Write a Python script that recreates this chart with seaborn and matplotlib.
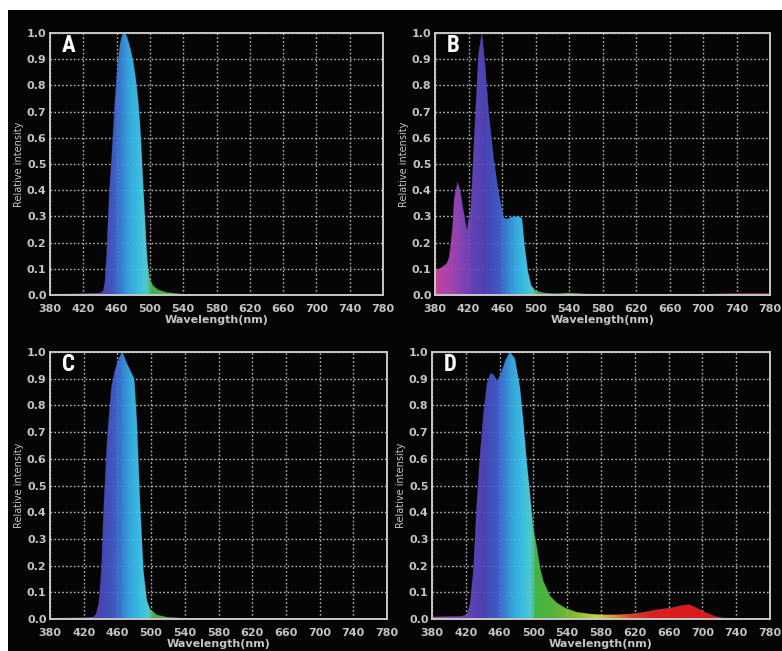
import numpy as np
import matplotlib
matplotlib.use("Agg")
import matplotlib.pyplot as plt
import seaborn as sns
import pandas as pd
from matplotlib.colors import LinearSegmentedColormap

# ---------------- data ----------------
wl_a = [380, 400, 420, 440, 444, 446, 448, 450, 452, 454, 456, 458, 460, 462, 464, 466, 468, 470,
        472, 474, 477, 480, 482, 484, 486, 488, 490, 492, 494, 496, 498, 500, 504, 510, 520, 540, 560, 600, 780]
val_a = [0.003, 0.004, 0.005, 0.008, 0.015, 0.05, 0.15, 0.3, 0.43, 0.52, 0.63, 0.74, 0.83, 0.9, 0.955, 0.985, 0.998, 1.0,
         0.99, 0.97, 0.935, 0.89, 0.85, 0.8, 0.74, 0.66, 0.55, 0.42, 0.3, 0.18, 0.1, 0.06, 0.035, 0.02, 0.01, 0.003, 0.001, 0.0, 0.0]

wl_b = [380, 388, 394, 397, 399, 401, 403, 407, 410, 413, 418, 423, 428, 432, 436, 440, 444, 450, 456,
        462, 466, 472, 478, 482, 484, 487, 491, 495, 500, 510, 525, 540, 560, 600, 700, 740, 780]
val_b = [0.093, 0.105, 0.12, 0.145, 0.2, 0.26, 0.37, 0.43, 0.4, 0.34, 0.245, 0.34, 0.67, 0.92, 1.0, 0.87, 0.7, 0.52, 0.39,
         0.295, 0.29, 0.298, 0.3, 0.298, 0.29, 0.19, 0.09, 0.036, 0.017, 0.008, 0.005, 0.008, 0.004, 0.003, 0.003, 0.006, 0.006]

wl_c = [380, 400, 420, 432, 435, 438, 441, 444, 448, 453, 457, 462, 466, 471, 477, 480, 483, 487, 491,
        495, 499, 507, 519, 538, 560, 780]
val_c = [0.003, 0.004, 0.005, 0.008, 0.02, 0.06, 0.18, 0.43, 0.68, 0.87, 0.93, 0.98, 1.0, 0.96, 0.92, 0.9, 0.75, 0.43, 0.18,
         0.07, 0.036, 0.015, 0.007, 0.003, 0.001, 0.0]

wl_d = [380, 400, 415, 421, 425, 429, 433, 437, 441, 445, 449, 453, 457, 461, 467, 472, 478, 484, 488,
        492, 496, 500, 504, 508, 512, 520, 528, 538, 551, 567, 583, 599, 615, 630, 646, 662, 674, 684,
        689, 697, 705, 715, 725, 740, 780]
val_d = [0.008, 0.009, 0.01, 0.016, 0.054, 0.18, 0.43, 0.62, 0.77, 0.88, 0.92, 0.915, 0.89, 0.915, 0.97, 1.0, 0.977, 0.87, 0.745,
         0.594, 0.47, 0.34, 0.27, 0.19, 0.14, 0.085, 0.06, 0.041, 0.026, 0.019, 0.016, 0.016, 0.019, 0.025, 0.035, 0.041, 0.05, 0.054,
         0.048, 0.035, 0.023, 0.01, 0.004, 0.003, 0.002]

panel_labels = ["A", "B", "C", "D"]
x_ticks = [380, 420, 460, 500, 540, 580, 620, 660, 700, 740, 780]
y_ticks = [0.0, 0.1, 0.2, 0.3, 0.4, 0.5, 0.6, 0.7, 0.8, 0.9, 1.0]
x_label = "Wavelength(nm)"
y_label = "Relative intensity"

# wavelength colour ramp
spec_nm = [380, 395, 410, 425, 440, 455, 465, 475, 488, 496, 502, 520, 550, 575, 595, 615, 640, 780]
spec_col = ["#d24aa8", "#b848b8", "#9048c0", "#6a46c0", "#5048c0", "#4460d0", "#3c88e0", "#38b4ec",
            "#40d0f4", "#58d8d8", "#48c048", "#58c040", "#90cc30", "#e0e040", "#f0a030", "#f04828",
            "#f02020", "#e01818"]

# ---------------- styling ----------------
sns.set_theme(style="dark")
plt.rcParams["font.family"] = ["DejaVu Sans"]

W, H = 782, 651
fig = plt.figure(figsize=(W / 100, H / 100), dpi=100, facecolor="white")
bg = fig.add_axes([8 / W, 0, 1 - 8 / W, 1 - 10 / H], zorder=-10)
bg.set_facecolor("#050505")
bg.set_xticks([])
bg.set_yticks([])
for s in bg.spines.values():
    s.set_visible(False)

boxes = [(50, 383, 33, 295), (435, 770, 33, 295), (50, 387, 352, 619), (432, 770, 352, 619)]
datasets = [(wl_a, val_a), (wl_b, val_b), (wl_c, val_c), (wl_d, val_d)]

pos = [(n - 380) / 400 for n in spec_nm]
cmap = LinearSegmentedColormap.from_list("spec", list(zip(pos, spec_col)))
grad = np.linspace(380, 780, 801)[None, :]

txt_col = "#c4c4c4"
for (x0, x1, y0, y1), (wl, val), lab in zip(boxes, datasets, panel_labels):
    ax = fig.add_axes([x0 / W, 1 - y1 / H, (x1 - x0) / W, (y1 - y0) / H], zorder=1)
    ax.set_facecolor("#050505")
    df = pd.DataFrame({"wl": wl, "val": val})
    poly = ax.fill_between(df["wl"], df["val"], 0, facecolor="none", edgecolor="none")
    im = ax.imshow(grad, extent=[380, 780, 0, 1], aspect="auto", cmap=cmap,
                   vmin=380, vmax=780, origin="lower", interpolation="bilinear", zorder=2, alpha=0.93)
    im.set_clip_path(poly.get_paths()[0], transform=ax.transData)
    sns.lineplot(data=df, x="wl", y="val", ax=ax, color="#5060c0", lw=0.5, alpha=0.35, zorder=3)
    ax.set_xlim(380, 780)
    ax.set_ylim(0, 1)
    ax.set_xticks(x_ticks)
    ax.set_yticks(y_ticks)
    ax.set_xticklabels([str(t) for t in x_ticks], fontweight="bold")
    ax.set_yticklabels([f"{t:.1f}" for t in y_ticks], fontweight="bold")
    ax.tick_params(axis="both", length=0, colors=txt_col, labelsize=8)
    ax.tick_params(axis="x", pad=6.5)
    ax.tick_params(axis="y", pad=2.5)
    ax.grid(True, color="#b4b4b4", linestyle=(0, (1.2, 1.6)), lw=1.0, zorder=1)
    ax.set_axisbelow(True)
    for s in ax.spines.values():
        s.set_visible(True)
        s.set_color("#c8c8c8")
        s.set_linewidth(1.4)
        s.set_zorder(5)
    ax.set_xlabel(x_label, color=txt_col, fontsize=8, fontweight="bold", labelpad=0.5)
    ax.set_ylabel(y_label, color=txt_col, fontsize=7, labelpad=2)
    ax.text(0.036, 0.995, lab, transform=ax.transAxes, ha="left", va="top", color="white",
            fontsize=16.5, fontweight="bold",
            family=["Roboto Condensed", "Roboto", "DejaVu Sans"], zorder=6)

fig.savefig("out.png", dpi=100, facecolor="white")
